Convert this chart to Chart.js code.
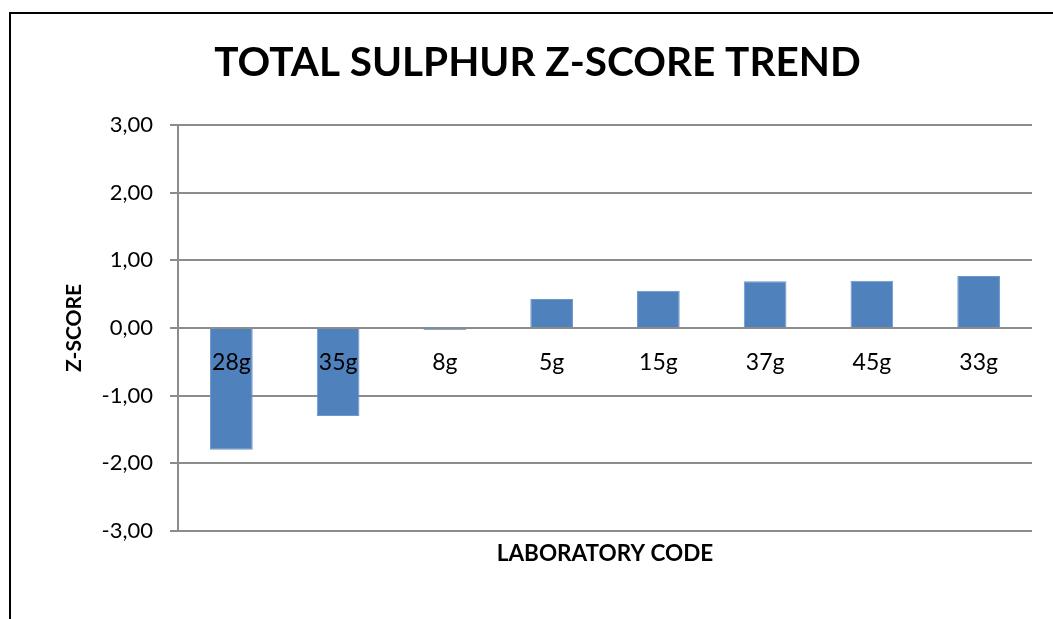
<!DOCTYPE html>
<html>
<head>
<meta charset="utf-8">
<script src="https://cdn.jsdelivr.net/npm/chart.js@4/dist/chart.umd.min.js"></script>
<style>
  body { margin: 0; background: #fff; overflow: hidden; }
  #wrap { position: relative; width: 1053px; height: 619px; }
  #frame { position: absolute; left: 9px; top: 12px; width: 1200px; height: 800px; border-left: 2px solid #000; border-top: 2px solid #000; }
  canvas { position: absolute; left: 0; top: 0; }
</style>
</head>
<body>
<div id="wrap">
  <div id="frame"></div>
  <canvas id="chart" width="1053" height="619"></canvas>
</div>
<script>
// lab codes and z-scores
const labCodes = ["28g", "35g", "8g", "5g", "15g", "37g", "45g", "33g"]
const zScores = [-1.80, -1.30, -0.03, 0.43, 0.55, 0.69, 0.70, 0.77]

const FONT = "Lato, 'Liberation Sans', sans-serif"

// draws the lab code labels just under the zero line
const zeroLabels = {
  id: "zeroLabels",
  afterDatasetsDraw(chart) {
    const { ctx, scales } = chart
    const y0 = scales.y.getPixelForValue(0)
    ctx.save()
    ctx.font = "23px " + FONT
    ctx.fillStyle = "#000"
    ctx.textAlign = "center"
    ctx.textBaseline = "middle"
    labCodes.forEach((code, i) => {
      ctx.fillText(code, scales.x.getPixelForValue(i), y0 + 35)
    })
    ctx.restore()
  },
}

const ctx = document.getElementById("chart").getContext("2d")
new Chart(ctx, {
  type: "bar",
  data: {
    labels: labCodes,
    datasets: [
      {
        label: "Z-score",
        data: zScores,
        backgroundColor: "#4f81bd",
        borderColor: "#6f97c9",
        borderWidth: 1,
        categoryPercentage: 1,
        barPercentage: 0.4,
      },
    ],
  },
  options: {
    responsive: false,
    animation: false,
    layout: {
      padding: { left: 43, right: 21, top: 0, bottom: 0 },
    },
    scales: {
      x: {
        ticks: { display: false },
        grid: { display: false, drawTicks: false },
        border: { display: false },
        title: {
          display: true,
          text: "LABORATORY CODE",
          color: "#000",
          font: { family: FONT, size: 22.5, weight: "bold" },
          padding: { top: 0, bottom: 52 },
        },
        afterFit(scale) {
          scale.height = 88
        },
      },
      y: {
        min: -3,
        max: 3,
        ticks: {
          stepSize: 1,
          color: "#000",
          padding: 17,
          font: { family: FONT, size: 22 },
          callback: (v) => v.toFixed(2).replace(".", ","),
        },
        grid: {
          color: "#8c8c8c",
          lineWidth: 2,
          tickLength: 8,
        },
        border: { color: "#8c8c8c", width: 2 },
        title: {
          display: true,
          text: "Z-SCORE",
          color: "#000",
          font: { family: FONT, size: 21, weight: "bold" },
          padding: { top: 19, bottom: 0 },
        },
        afterFit(scale) {
          scale.width = 135
        },
      },
    },
    plugins: {
      legend: { display: false },
      tooltip: { enabled: false },
      title: {
        display: true,
        text: "TOTAL SULPHUR Z-SCORE TREND",
        color: "#000",
        font: { family: FONT, size: 40.5, weight: "bold", lineHeight: 1.2 },
        padding: { top: 39, bottom: 37.4 },
      },
    },
  },
  plugins: [zeroLabels],
})
</script>
</body>
</html>
